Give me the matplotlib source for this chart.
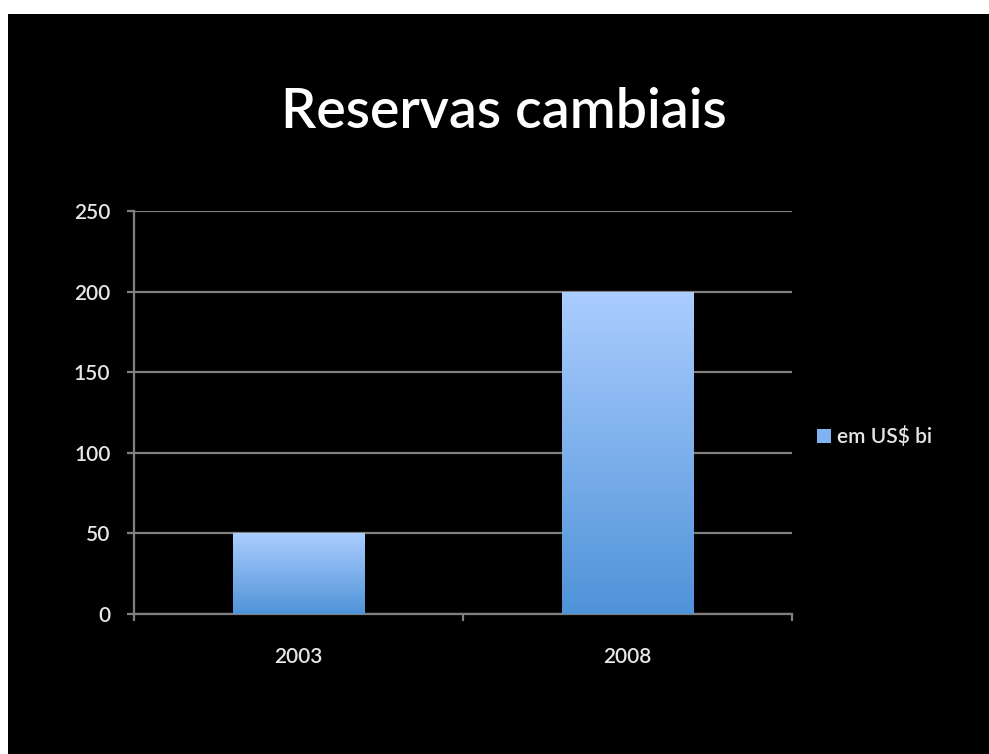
import numpy as np
import matplotlib.pyplot as plt
from matplotlib.patches import Rectangle
from matplotlib.colors import LinearSegmentedColormap

plt.rcParams['font.family'] = ['Lato', 'DejaVu Sans']

# data
years = ['2003', '2008']
valores = [50, 200]
serie = 'em US$ bi'
yticks = [0, 50, 100, 150, 200, 250]

fig = plt.figure(figsize=(9.89, 7.54), dpi=100)
fig.patch.set_facecolor('white')
# black slide background (white strip on top/left)
fig.patches.append(Rectangle((8 / 989, 0), 1, 1 - 14 / 754, transform=fig.transFigure,
                             facecolor='black', edgecolor='none', zorder=-10))

ax = fig.add_axes([134 / 989, 1 - 614 / 754, (792 - 134) / 989, (614 - 211) / 754])
ax.set_facecolor('black')

grad = LinearSegmentedColormap.from_list('g', ['#4f93d8', '#abcdff'])
x = np.arange(len(years))
bars = ax.bar(x, valores, width=0.4, color='none', edgecolor='none', zorder=3)
for b in bars:
    bx, by = b.get_x(), b.get_y()
    w, h = b.get_width(), b.get_height()
    img = ax.imshow(np.linspace(0, 1, 256).reshape(-1, 1), cmap=grad, origin='lower',
                    extent=[bx, bx + w, by, by + h], aspect='auto', zorder=3)
    img.set_clip_path(b)

ax.set_xlim(-0.5, 1.5)
ax.set_ylim(0, 250)
ax.set_yticks(yticks)
ax.set_xticks(x)
ax.set_xticklabels(years)
ax.set_xticks([-0.5, 0.5, 1.5], minor=True)
ax.grid(axis='y', color='#808080', linewidth=1.6, zorder=1)
for s in ['top', 'right']:
    ax.spines[s].set_visible(False)
ax.spines['left'].set_color('#808080')
ax.spines['bottom'].set_color('#808080')
ax.spines['left'].set_linewidth(1.6)
ax.spines['bottom'].set_linewidth(1.6)
ax.tick_params(axis='y', colors='#808080', length=5, width=1.6, labelcolor='#e6e6e6',
               labelsize=15, pad=12)
ax.tick_params(axis='x', which='major', length=0, labelcolor='#e6e6e6', labelsize=15, pad=24)
ax.tick_params(axis='x', which='minor', colors='#808080', length=5, width=1.6)
for lab in ax.get_xticklabels() + ax.get_yticklabels():
    lab.set_fontweight('semibold')

fig.text(504 / 989, 1 - 112 / 754, 'Reservas cambiais', color='white', fontsize=40,
         fontweight='semibold', ha='center', va='center')

# legend
fig.patches.append(Rectangle((817 / 989, 1 - 443 / 754), 14 / 989, 14 / 754,
                             transform=fig.transFigure, facecolor='#7fb2ee',
                             edgecolor='none'))
fig.text(837 / 989, 1 - 437 / 754, serie, color='#e6e6e6', fontsize=15,
         fontweight='semibold', ha='left', va='center')

fig.savefig('out.png', dpi=100, facecolor=fig.get_facecolor())
